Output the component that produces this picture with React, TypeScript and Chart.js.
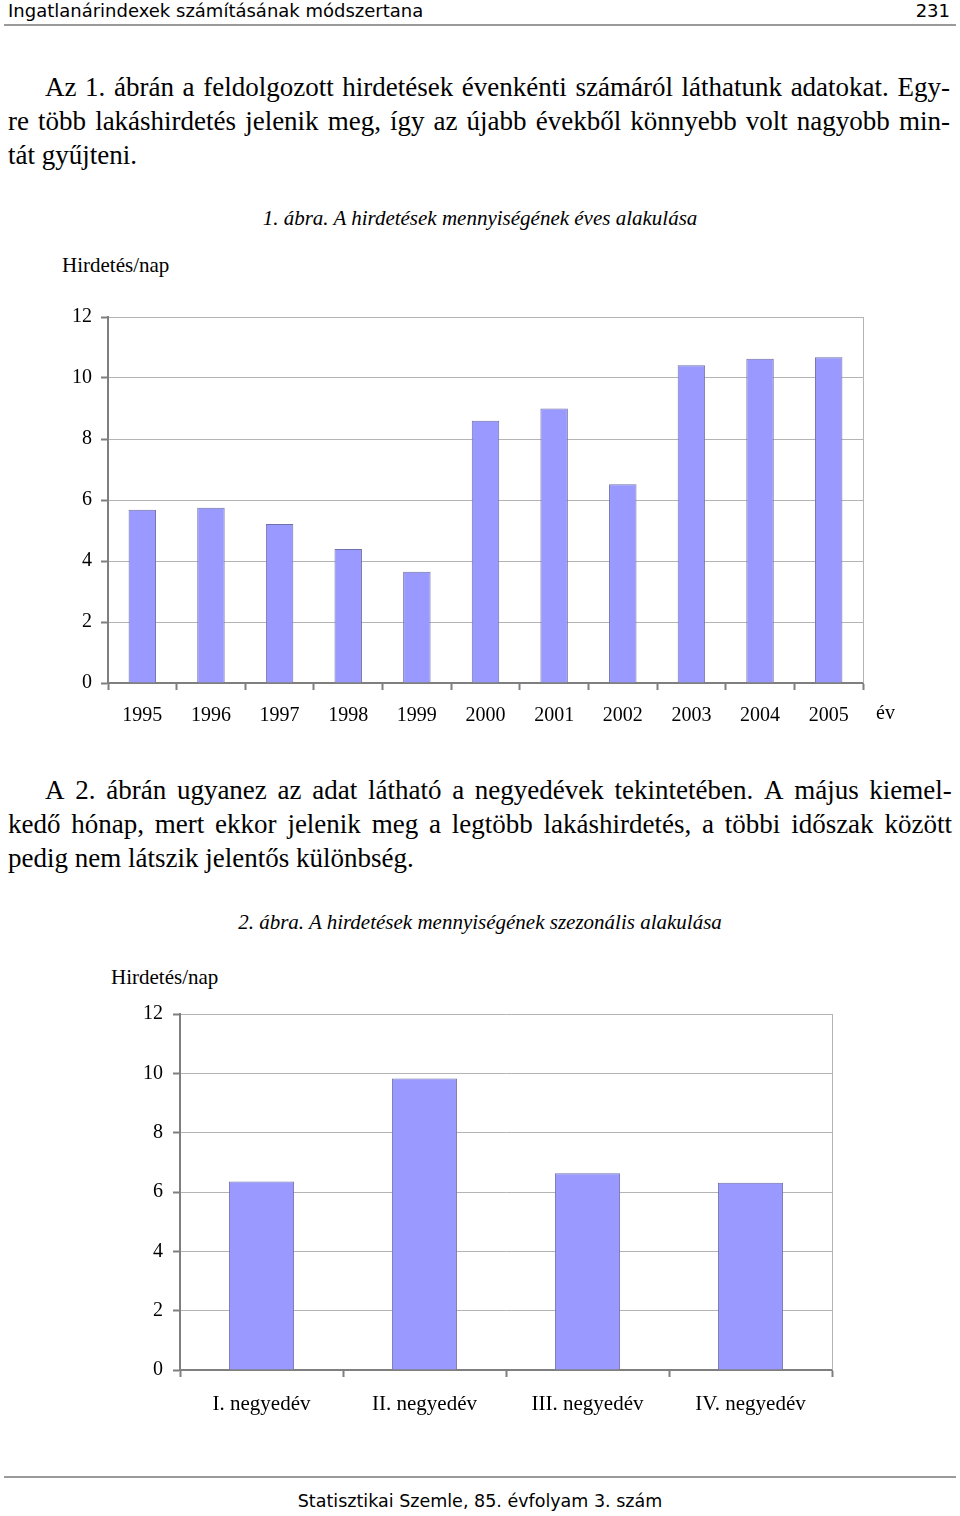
import React, { useEffect, useRef } from "react";
import { Chart, registerables } from "chart.js";

Chart.register(...registerables);

// ---- data ----
const years = ["1995", "1996", "1997", "1998", "1999", "2000", "2001", "2002", "2003", "2004", "2005"];
const yearValues = [5.68, 5.75, 5.21, 4.39, 3.65, 8.6, 9.0, 6.52, 10.42, 10.63, 10.68];

const quarters = ["I. negyedév", "II. negyedév", "III. negyedév", "IV. negyedév"];
const quarterValues = [6.35, 9.83, 6.63, 6.31];

const yTicks = [0, 2, 4, 6, 8, 10, 12];

// ---- styles ----
const SERIF = '"Liberation Serif", "Times New Roman", serif';
const SANS = '"DejaVu Sans", sans-serif';
const AXIS = "#7f7f7f";
const GRID = "#b4b4b4";
const BAR_FILL = "#9999ff";
const BAR_EDGE = "#7070a8";

const rightBorder = {
  id: "rightBorder",
  beforeDatasetsDraw(chart: any) {
    const { ctx, chartArea: a } = chart;
    ctx.save();
    ctx.strokeStyle = GRID;
    ctx.lineWidth = 1;
    const x = Math.round(a.right) + 0.5;
    ctx.beginPath();
    ctx.moveTo(x, a.top);
    ctx.lineTo(x, a.bottom);
    ctx.stroke();
    ctx.restore();
  },
};

function makeConfig(
  labels: string[],
  values: number[],
  yWidth: number,
  xHeight: number,
  padding: any,
  xLabelPad: number,
  yLabelPad: number,
  xFont: number
): any {
  return {
    type: "bar",
    data: {
      labels,
      datasets: [
        {
          data: values,
          backgroundColor: BAR_FILL,
          borderColor: BAR_EDGE,
          borderWidth: 1,
          barPercentage: 0.4,
          categoryPercentage: 1,
        },
      ],
    },
    options: {
      animation: false,
      responsive: false,
      maintainAspectRatio: false,
      layout: { padding },
      plugins: {
        legend: { display: false },
        tooltip: { enabled: false },
        title: { display: false },
      },
      scales: {
        x: {
          offset: true,
          grid: {
            display: true,
            offset: true,
            drawOnChartArea: false,
            drawTicks: true,
            tickLength: 7,
            tickColor: AXIS,
            tickWidth: 2,
          },
          border: { display: true, color: AXIS, width: 2 },
          ticks: {
            color: "#000",
            font: { family: SERIF, size: xFont },
            padding: xLabelPad,
            maxRotation: 0,
            minRotation: 0,
            autoSkip: false,
          },
          afterFit: (s: any) => {
            s.height = xHeight;
          },
        },
        y: {
          min: 0,
          max: 12,
          afterBuildTicks: (s: any) => {
            s.ticks = yTicks.map((v) => ({ value: v }));
          },
          ticks: {
            color: "#000",
            font: { family: SERIF, size: 20 },
            padding: yLabelPad,
          },
          grid: {
            color: GRID,
            lineWidth: 1,
            tickColor: AXIS,
            tickWidth: 2,
            tickLength: 7,
          },
          border: { display: true, color: AXIS, width: 2 },
          afterFit: (s: any) => {
            s.width = yWidth;
          },
        },
      },
    },
    plugins: [rightBorder],
  };
}

function BarChart(props: {
  labels: string[];
  values: number[];
  left: number;
  top: number;
  width: number;
  height: number;
  yWidth: number;
  xHeight: number;
  padding: any;
  xLabelPad: number;
  yLabelPad: number;
  xFont: number;
}) {
  const ref = useRef<HTMLCanvasElement | null>(null);
  useEffect(() => {
    if (!ref.current) return;
    const chart = new Chart(
      ref.current,
      makeConfig(
        props.labels,
        props.values,
        props.yWidth,
        props.xHeight,
        props.padding,
        props.xLabelPad,
        props.yLabelPad,
        props.xFont
      )
    );
    return () => chart.destroy();
  }, []);
  return (
    <canvas
      ref={ref}
      width={props.width}
      height={props.height}
      style={{
        position: "absolute",
        left: props.left,
        top: props.top,
        width: props.width,
        height: props.height,
      }}
    />
  );
}

function Txt(props: {
  x: number;
  cy: number;
  size: number;
  children: any;
  family?: string;
  italic?: boolean;
  align?: "left" | "right" | "center";
}) {
  const lh = Math.round(props.size * 1.3);
  const style: any = {
    position: "absolute",
    top: props.cy - lh / 2,
    fontFamily: props.family || SERIF,
    fontSize: props.size,
    lineHeight: lh + "px",
    fontStyle: props.italic ? "italic" : "normal",
    whiteSpace: "nowrap",
    color: "#000",
  };
  if (props.align === "right") {
    style.right = 960 - props.x;
  } else if (props.align === "center") {
    style.left = props.x - 400;
    style.width = 800;
    style.textAlign = "center";
  } else {
    style.left = props.x;
  }
  return <div style={style}>{props.children}</div>;
}

const BODY_SIZE = 27;

function JLine(props: { left: number; right: number; cy: number; text: string; justify?: boolean }) {
  const lh = 34;
  const base: any = {
    position: "absolute",
    left: props.left,
    top: props.cy - lh / 2,
    width: props.right - props.left,
    fontFamily: SERIF,
    fontSize: BODY_SIZE,
    lineHeight: lh + "px",
    whiteSpace: "nowrap",
    color: "#000",
  };
  if (!props.justify) {
    return <div style={base}>{props.text}</div>;
  }
  const words = props.text.split(" ");
  return (
    <div style={{ ...base, display: "flex", justifyContent: "space-between" }}>
      {words.map((w, i) => (
        <span key={i}>{w}</span>
      ))}
    </div>
  );
}

export default function App() {
  return (
    <div
      style={{
        position: "absolute",
        left: 0,
        top: 0,
        width: 960,
        height: 1516,
        background: "#fff",
        overflow: "hidden",
      }}
    >
      {/* header */}
      <Txt x={8} cy={10} size={18} family={SANS}>
        Ingatlanárindexek számításának módszertana
      </Txt>
      <Txt x={950} cy={10} size={18} family={SANS} align="right">
        231
      </Txt>
      <div style={{ position: "absolute", left: 4, top: 24, width: 952, height: 2, background: "#9a9a9a" }} />

      {/* paragraph 1 */}
      <JLine left={45} right={950} cy={87} justify text="Az 1. ábrán a feldolgozott hirdetések évenkénti számáról láthatunk adatokat. Egy-" />
      <JLine left={8} right={950} cy={121} justify text="re több lakáshirdetés jelenik meg, így az újabb évekből könnyebb volt nagyobb min-" />
      <JLine left={8} right={950} cy={155} text="tát gyűjteni." />

      {/* figure 1 */}
      <Txt x={480} cy={218} size={21} italic align="center">
        1. ábra. A hirdetések mennyiségének éves alakulása
      </Txt>
      <Txt x={62} cy={265} size={21}>
        Hirdetés/nap
      </Txt>
      <BarChart
        labels={years}
        values={yearValues}
        left={40}
        top={290}
        width={880}
        height={445}
        yWidth={68}
        xHeight={52}
        padding={{ top: 27, right: 57, left: 0, bottom: 0 }}
        xLabelPad={14}
        yLabelPad={9}
        xFont={20}
      />
      <Txt x={876} cy={712} size={20}>
        év
      </Txt>

      {/* paragraph 2 */}
      <JLine left={45} right={952} cy={790} justify text="A 2. ábrán ugyanez az adat látható a negyedévek tekintetében. A május kiemel-" />
      <JLine left={8} right={952} cy={824} justify text="kedő hónap, mert ekkor jelenik meg a legtöbb lakáshirdetés, a többi időszak között" />
      <JLine left={8} right={952} cy={858} text="pedig nem látszik jelentős különbség." />

      {/* figure 2 */}
      <Txt x={480} cy={922} size={21} italic align="center">
        2. ábra. A hirdetések mennyiségének szezonális alakulása
      </Txt>
      <Txt x={111} cy={977} size={21}>
        Hirdetés/nap
      </Txt>
      <BarChart
        labels={quarters}
        values={quarterValues}
        left={110}
        top={990}
        width={750}
        height={440}
        yWidth={70}
        xHeight={60}
        padding={{ top: 24, right: 28, left: 0, bottom: 0 }}
        xLabelPad={15}
        yLabelPad={10}
        xFont={21}
      />

      {/* footer */}
      <div style={{ position: "absolute", left: 4, top: 1476, width: 952, height: 2, background: "#9a9a9a" }} />
      <Txt x={480} cy={1501} size={17.5} family={SANS} align="center">
        Statisztikai Szemle, 85. évfolyam 3. szám
      </Txt>
    </div>
  );
}
